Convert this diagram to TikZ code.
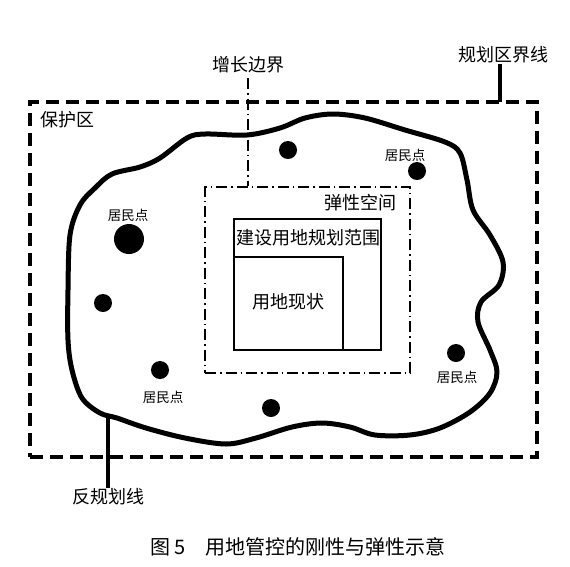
\documentclass[tikz,border=0pt]{standalone}
\usepackage{fontspec}
\setmainfont{Noto Sans CJK SC}
\begin{document}
\begin{tikzpicture}[x=1pt,y=-1pt,
  lbl/.style={inner sep=0pt,font=\fontsize{18}{20}\selectfont},
  small/.style={inner sep=0pt,font=\fontsize{13.5}{15}\selectfont},
  captext/.style={inner sep=0pt,font=\fontsize{20}{22}\selectfont},
  settle/.style={circle,fill=black,inner sep=0pt,minimum size=18pt},
  bigsettle/.style={circle,fill=black,inner sep=0pt,minimum size=30pt},
  planline/.style={line width=4pt,dash pattern=on 13pt off 7pt},
  elastline/.style={line width=2pt,dash pattern=on 11pt off 4pt on 1.5pt off 4pt},
  boxline/.style={line width=1.5pt},
  antiline/.style={line width=5pt,line join=round}]
\useasboundingbox (0,0) rectangle (570,566);
% planning region
\node[draw,planline,minimum width=507pt,minimum height=355pt,inner sep=0pt] (plan) at (283.5,279.5) {};
\node[lbl] (planlbl) at (503,55) {规划区界线};
\coordinate (plantop) at (500,102);
\draw[line width=4pt] (plantop) -- (planlbl.south -| plantop);
\node[lbl] (prot) at (67,120) {保护区};
% anti-planning line
\draw[antiline] plot[smooth cycle,tension=0.55] coordinates {
 (68,290) (70,235) (80,205) (95,188) (112,174) (140,167) (160,158) (187,138)
 (205,134) (247,135) (280,128) (305,118) (333,114) (365,118) (405,130) (445,142)
 (460,153) (467,180) (473,210) (490,235) (503,262) (499,285) (481,302) (478,322)
 (490,350) (497,372) (490,393) (470,412) (440,428) (410,435) (375,435) (350,427)
 (322,423) (292,427) (256,438) (226,444) (185,438) (146,428) (117,418) (100,413)
 (82,398) (72,370) (68,340)};
\coordinate (anti) at (108,416);
\node[lbl] (antilbl) at (108,497) {反规划线};
\draw[line width=4pt] (anti) -- (antilbl.north);
% elastic space
\node[draw,elastline,minimum width=205pt,minimum height=186pt,inner sep=0pt] (elast) at (307.5,280) {};
\node[lbl] (growlbl) at (248,65) {增长边界};
\draw[elastline] (growlbl.south |- 0,78) -- (growlbl.south |- elast.north);
\node[lbl] (elastlbl) at (360,203) {弹性空间};
% construction land
\node[draw,boxline,minimum width=147pt,minimum height=131pt,inner sep=0pt] (build) at (307.5,284.5) {};
\node[lbl] (buildlbl) at (308,238) {建设用地规划范围};
\node[draw,boxline,minimum width=109pt,minimum height=93pt,inner sep=0pt] (status) at (288.5,303.5) {};
\node[lbl] (statuslbl) at (288,302) {用地现状};
% settlements
\node[settle] (d1) at (288,150) {};
\node[settle] (d2) at (417,171) {};
\node[small] (d2lbl) at (405,155) {居民点};
\node[bigsettle] (d3) at (129,239) {};
\node[small] (d3lbl) at (128,215) {居民点};
\node[settle] (d4) at (103,303) {};
\node[settle] (d5) at (160,370) {};
\node[small] (d5lbl) at (163,397) {居民点};
\node[settle] (d6) at (271,408) {};
\node[settle] (d7) at (456,353) {};
\node[small] (d7lbl) at (457,377) {居民点};
% caption
\node[captext,anchor=west] (fig) at (150,547) {图 5};
\node[captext,anchor=west] (caption) at (205,547) {用地管控的刚性与弹性示意};
\end{tikzpicture}
\end{document}
